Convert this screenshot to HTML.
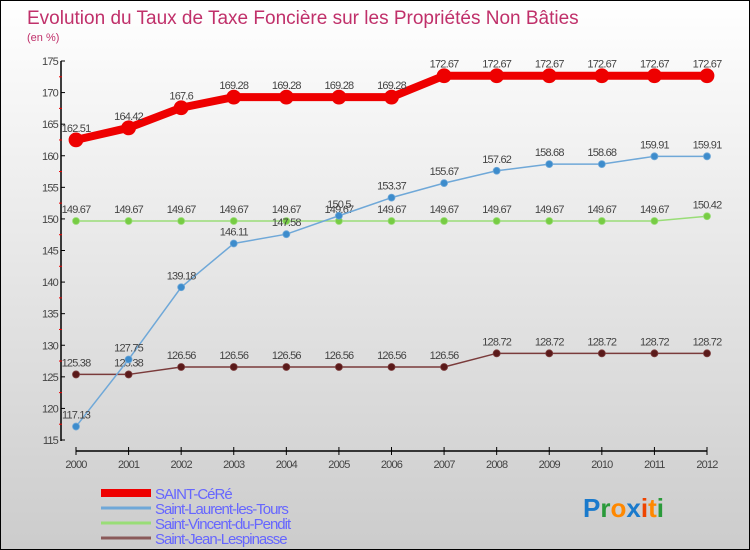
<!DOCTYPE html>
<html><head><meta charset="utf-8"><style>
body{margin:0}
#c{width:748px;height:548px;border:1px solid #000;background:linear-gradient(#fff,#ccc);position:relative;overflow:hidden;font-family:"Liberation Sans",sans-serif}
text{font-family:"Liberation Sans",sans-serif}
</style></head><body>
<div id="c">
<svg id="s" width="748" height="548"></svg>
</div>
<script>
const years=[2000,2001,2002,2003,2004,2005,2006,2007,2008,2009,2010,2011,2012];
const saintCere=[162.51,164.42,167.6,169.28,169.28,169.28,169.28,172.67,172.67,172.67,172.67,172.67,172.67];
const saintLaurent=[117.13,127.75,139.18,146.11,147.58,150.5,153.37,155.67,157.62,158.68,158.68,159.91,159.91];
const saintVincent=[149.67,149.67,149.67,149.67,149.67,149.67,149.67,149.67,149.67,149.67,149.67,149.67,150.42];
const saintJean=[125.38,125.38,126.56,126.56,126.56,126.56,126.56,126.56,128.72,128.72,128.72,128.72,128.72];
const yTicks=[115,120,125,130,135,140,145,150,155,160,165,170,175];
const seriesNames=["SAINT-CéRé","Saint-Laurent-les-Tours","Saint-Vincent-du-Pendit","Saint-Jean-Lespinasse"];

const NS="http://www.w3.org/2000/svg",s=document.getElementById('s');
function el(t,a,p){const e=document.createElementNS(NS,t);for(const k in a)e.setAttribute(k,a[k]);(p||s).appendChild(e);return e;}
const X=i=>75+i*(706-75)/(years.length-1);
const Y=v=>439-(v-115)*(379/60);

let t=el('text',{x:26,y:23,fill:'#c0306a','font-size':19});t.textContent="Evolution du Taux de Taxe Foncière sur les Propriétés Non Bâties";

t=el('text',{x:26,y:40,fill:'#c0306a','font-size':11});t.textContent="(en %)";


let ya=el('line',{x1:60,y1:60,x2:60,y2:440,stroke:'#000','stroke-width':1.5});

yTicks.forEach((v,i)=>{
  el('line',{x1:60,y1:Y(v),x2:64,y2:Y(v),stroke:'#000'});
  if(i<yTicks.length-1)el('line',{x1:58,y1:Y(v+2.5),x2:61,y2:Y(v+2.5),stroke:'#e00'});
  const tt=el('text',{x:57,y:Y(v)+4,'text-anchor':'end','font-size':11,fill:'#444','letter-spacing':-0.8});tt.textContent=v;
  
});
let xa=el('line',{x1:75,y1:450,x2:706,y2:450,stroke:'#000','stroke-width':1.5});

years.forEach((y,i)=>{
  el('line',{x1:X(i),y1:446,x2:X(i),y2:454,stroke:'#000'});
  const tt=el('text',{x:X(i),y:467,'text-anchor':'middle','font-size':11,fill:'#444','letter-spacing':-0.8});tt.textContent=y;
  
});

function series(data,color,w,r,name,dot){
  const g=el('g',{});
  
  el('polyline',{points:data.map((v,i)=>X(i)+','+Y(v)).join(' '),fill:'none',stroke:color,'stroke-width':w},g);
  data.forEach((v,i)=>{
    const c=el('circle',{cx:X(i),cy:Y(v),r:r,fill:dot,stroke:color,'stroke-width':0.8},g);
    
    const tt=el('text',{x:X(i),y:Y(v)-8,'text-anchor':'middle','font-size':11,fill:'#444','letter-spacing':-0.8},g);tt.textContent=v;
  });
}
series(saintJean,'#7a3b3b',1.5,3.5,'saint-jean-series','#5a1a1a');
series(saintVincent,'#99dd77',1.5,3.5,'saint-vincent-series','#77cc44');
series(saintLaurent,'#6fa8d8',1.5,3.5,'saint-laurent-series','#3d8ccc');
series(saintCere,'#ee0000',8,7,'saint-cere-series','#ee0000');

const lc=['#ee0000','#6fa8d8','#99dd77','#8a5a5a'],lw=[8,3,3,3];
seriesNames.forEach((n,i)=>{
  const y=492+i*15;
  const g=el('g',{});
  el('line',{x1:100,y1:y,x2:150,y2:y,stroke:lc[i],'stroke-width':lw[i]},g);
  const tt=el('text',{x:154,y:y+6,'font-size':15,fill:'#6666ff','letter-spacing':-1},g);tt.textContent=n;
});
const lg=el('text',{x:582,y:516,'font-size':26,'font-weight':'bold'});

[['P','#1a7acc'],['r','#2a9a3a'],['o','#ff8800'],['x','#1a7acc'],['i','#ee4400'],['t','#ff8800'],['i','#2a9a3a']].forEach(([c,f])=>{el('tspan',{fill:f},lg).textContent=c;});
</script>
</body></html>
